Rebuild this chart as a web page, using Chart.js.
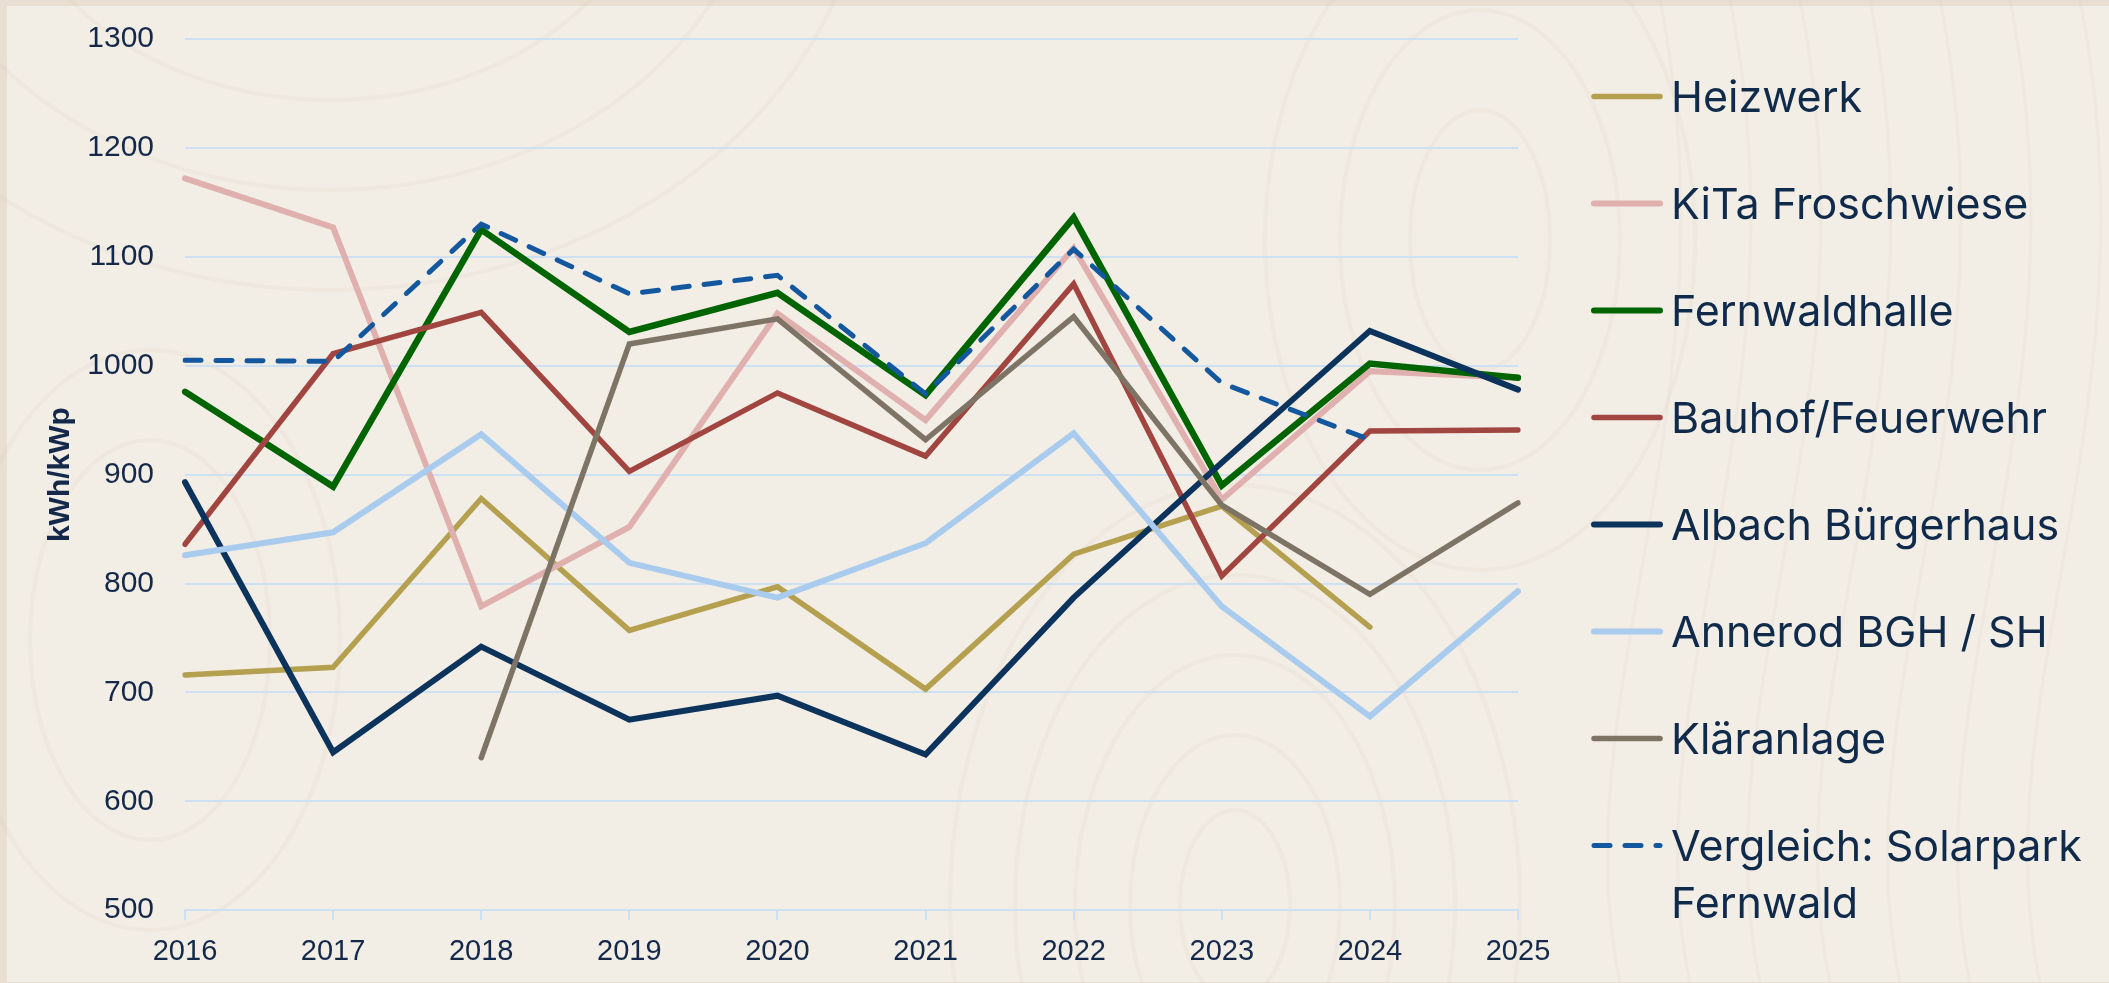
<!DOCTYPE html>
<html>
<head>
<meta charset="utf-8">
<title>PV Ertrag kWh/kWp</title>
<script src="https://cdn.jsdelivr.net/npm/chart.js@4.4.1/dist/chart.umd.min.js"></script>
<style>
  html, body { margin: 0; padding: 0; }
  body { width: 2109px; height: 983px; background: #e8dfd2; position: relative; overflow: hidden; }
  #panel { position: absolute; left: 7px; top: 6px; width: 2102px; height: 976px; background: #f2ede5; }
  #topo { position: absolute; left: 0; top: 0; }
  #wrap { position: absolute; left: 0; top: 0; width: 2109px; height: 983px; }
  #legend { position: absolute; left: 1591px; top: 0; font-family: Inter, "Noto Sans", sans-serif; font-size: 43px; color: #0f2a4a; }
  .item { position: absolute; left: 0; display: flex; align-items: flex-start; line-height: 57px; }
  .item svg { flex: none; }
  .item span { display: block; width: 433px; margin-left: 8px; }
</style>
</head>
<body>
<div id="panel"></div>
<svg id="topo" width="2109" height="983"></svg>
<div id="wrap"><canvas id="yieldChart" width="2109" height="983"></canvas></div>
<div id="legend"></div>

<script>
// Data (kWh per kWp and year)

const years = ['2016', '2017', '2018', '2019', '2020', '2021', '2022', '2023', '2024', '2025'];

const heizwerk      = [716, 723, 878, 757, 797, 703, 827, 871, 760, null];
const kitaFrosch    = [1172, 1127, 779, 852, 1048, 950, 1108, 877, 995, 989];
const fernwaldhalle = [976, 889, 1125, 1031, 1067, 973, 1136, 890, 1002, 989];
const bauhof        = [836, 1011, 1049, 903, 975, 917, 1075, 807, 940, 941];
const albach        = [893, 645, 742, 675, 697, 643, 787, 911, 1032, 978];
const annerod       = [826, 847, 937, 819, 787, 837, 938, 779, 678, 793];
const klaeranlage   = [null, null, 640, 1020, 1043, 932, 1045, 872, 790, 874];
const solarpark     = [1005, 1004, 1130, 1066, 1083, 974, 1107, 984, 932, null];

const seriesNames = ['Heizwerk', 'KiTa Froschwiese', 'Fernwaldhalle', 'Bauhof/Feuerwehr',
  'Albach Bürgerhaus', 'Annerod BGH / SH', 'Kläranlage', 'Vergleich: Solarpark Fernwald'];
const seriesValues = [heizwerk, kitaFrosch, fernwaldhalle, bauhof, albach, annerod, klaeranlage, solarpark];
const seriesColors = ['#b4a04f', '#e0b0ae', '#006400', '#a0453f', '#0c335c', '#a9ccee', '#7e7466', '#13579f'];
const seriesWidths = [5.5, 6, 6.5, 5.5, 6, 6, 5.5, 5];
const seriesDash   = [[], [], [], [], [], [], [], [16, 15]];

const yTicks = { min: 500, max: 1300, step: 100 };

const navy = '#14294a';
const gridBlue = '#cde0f4';

// faint topo lines in the background (decoration only)
function drawTopo() {
  const svg = document.getElementById('topo');
  const rings = [
    [1235, 905, 55, 95], [1235, 905, 105, 170], [1235, 905, 160, 250], [1235, 905, 220, 330], [1235, 905, 285, 420],
    [1480, 240, 70, 130], [1480, 240, 140, 230], [1480, 240, 215, 330],
    [330, -160, 330, 260], [330, -160, 430, 350], [330, -160, 540, 450],
    [150, 640, 120, 200], [150, 640, 190, 290]
  ];
  let out = '';
  rings.forEach(r => {
    out += `<ellipse cx="${r[0]}" cy="${r[1]}" rx="${r[2]}" ry="${r[3]}" fill="none" stroke="rgba(215,200,175,0.12)" stroke-width="4"/>`;
  });
  for (let i = 0; i < 7; i++) {
    const x = 1620 + i * 70;
    out += `<path d="M${x} 983 C ${x - 60} 700, ${x + 120} 400, ${x + 40} 0" fill="none" stroke="rgba(215,200,175,0.12)" stroke-width="3"/>`;
  }
  svg.innerHTML = out;
}
drawTopo();

const datasets = seriesNames.map((name, i) => ({
  label: name,
  data: seriesValues[i],
  borderColor: seriesColors[i],
  backgroundColor: seriesColors[i],
  borderWidth: seriesWidths[i],
  borderDash: seriesDash[i],
  borderCapStyle: 'round',
  borderJoinStyle: 'miter',
  pointRadius: 0,
  pointHoverRadius: 0,
  tension: 0,
  fill: false,
  order: seriesNames.length - i   // later series on top like in the original
}));

const yieldChart = new Chart(document.getElementById('yieldChart'), {
  type: 'line',
  data: { labels: years, datasets: datasets },
  options: {
    responsive: false,
    devicePixelRatio: 1,
    animation: false,
    layout: { padding: { left: 0, top: 39, right: 591, bottom: 0 } },
    plugins: {
      legend: { display: false },
      tooltip: { enabled: false }
    },
    scales: {
      x: {
        grid: { drawOnChartArea: false, drawTicks: true, tickLength: 10, tickColor: gridBlue, lineWidth: 2 },
        border: { display: true, color: gridBlue, width: 2 },
        ticks: {
          color: navy, padding: 14, maxRotation: 0, autoSkip: false,
          font: { family: '"Liberation Sans", Arial, sans-serif', size: 29 }
        }
      },
      y: {
        min: yTicks.min,
        max: yTicks.max,
        afterFit: scale => { scale.width = 185; },
        grid: { color: gridBlue, lineWidth: 2, drawTicks: true, tickLength: 31, tickColor: 'rgba(0,0,0,0)' },
        border: { display: false },
        ticks: {
          stepSize: yTicks.step, color: navy, padding: 0,
          callback: v => String(v),
          font: { family: '"Liberation Sans", Arial, sans-serif', size: 30 }
        },
        title: {
          display: true, text: 'kWh/kWp', color: navy,
          padding: { top: 43, bottom: 0 },
          font: { family: '"Liberation Sans", Arial, sans-serif', size: 30, weight: 'bold' }
        }
      }
    }
  }
});

// html legend, built from the chart datasets
function buildLegend(chart) {
  const box = document.getElementById('legend');
  box.innerHTML = '';
  chart.data.datasets.forEach((ds, i) => {
    const row = document.createElement('div');
    row.className = 'item';
    row.style.top = (96 - 28.5 + i * 107) + 'px';
    const dash = ds.borderDash.length ? `stroke-dasharray="${ds.borderDash.join(' ')}"` : '';
    row.innerHTML =
      `<svg width="72" height="57"><line x1="3" y1="28.5" x2="69" y2="28.5" stroke="${ds.borderColor}" ` +
      `stroke-width="${Math.min(ds.borderWidth, 6)}" stroke-linecap="round" ${dash}/></svg>` +
      `<span>${ds.label}</span>`;
    box.appendChild(row);
  });
}
buildLegend(yieldChart);
</script>
</body>
</html>
